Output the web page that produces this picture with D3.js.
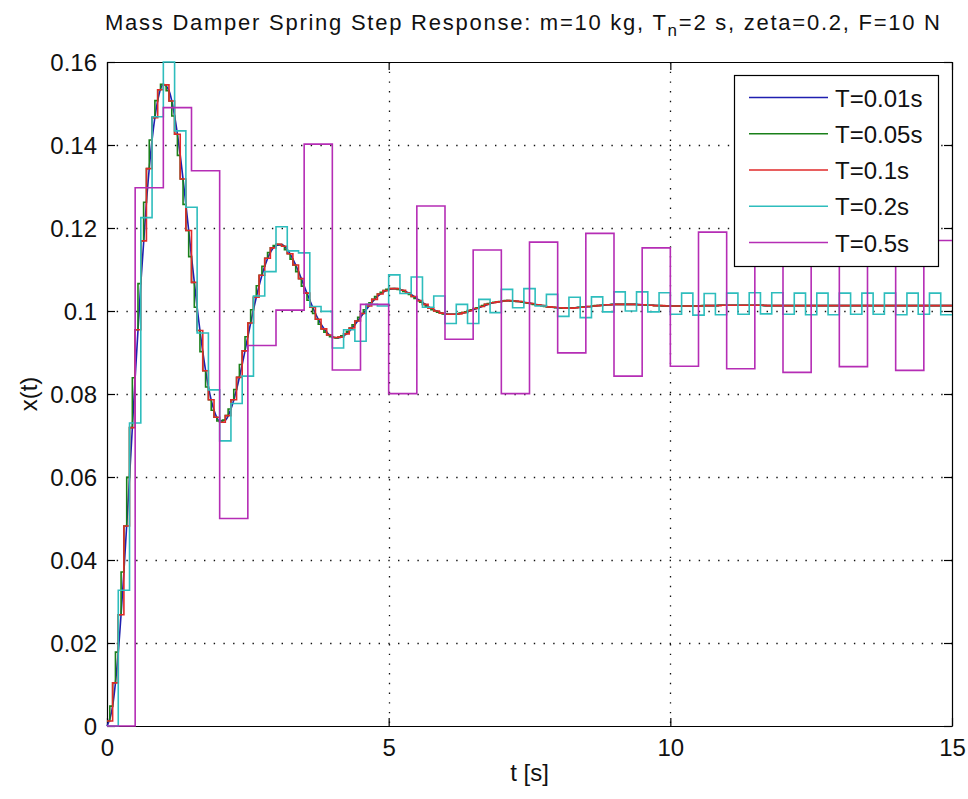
<!DOCTYPE html>
<html><head><meta charset="utf-8">
<script src="https://cdn.jsdelivr.net/npm/d3@7"></script>
<style>
html,body{margin:0;padding:0;background:#fff;}
svg{display:block;font-family:"Liberation Sans",Arial,Helvetica,sans-serif;}
</style></head><body>
<svg id="chart" width="968" height="799"></svg>
<script>
// ---------------- data ----------------
const xTicks = [0, 5, 10, 15];
const yTicks = [0, 0.02, 0.04, 0.06, 0.08, 0.1, 0.12, 0.14, 0.16];
const yTickLabels = ["0", "0.02", "0.04", "0.06", "0.08", "0.1", "0.12", "0.14", "0.16"];
const seriesNames = ["T=0.01s", "T=0.05s", "T=0.1s", "T=0.2s", "T=0.5s"];
const seriesColors = ["#1f1fb0", "#1a801a", "#e02a2a", "#2ebdbd", "#b52db5"];
const sampleSteps = [0.1, 0.05, 0.1, 0.2, 0.5];

// T=0.01s (drawn as smooth curve, read every 0.1 s)
const valsT001 = [
0.0000,0.0048,0.0178,0.0371,0.0599,0.0839,0.1066,0.1262,0.1412,0.1507,
0.1546,0.1531,0.1470,0.1375,0.1257,0.1131,0.1009,0.0902,0.0817,0.0761,
0.0735,0.0737,0.0764,0.0811,0.0871,0.0938,0.1003,0.1061,0.1108,0.1141,
0.1158,0.1160,0.1148,0.1125,0.1095,0.1060,0.1026,0.0994,0.0968,0.0949,
0.0938,0.0935,0.0940,0.0951,0.0967,0.0985,0.1003,0.1020,0.1035,0.1045,
0.1052,0.1054,0.1052,0.1047,0.1040,0.1030,0.1021,0.1011,0.1003,0.0997,
0.0993,0.0992,0.0992,0.0995,0.0998,0.1003,0.1008,0.1013,0.1018,0.1021,
0.1023,0.1025,0.1024,0.1023,0.1021,0.1019,0.1016,0.1014,0.1011,0.1009,
0.1008,0.1007,0.1007,0.1008,0.1009,0.1010,0.1011,0.1013,0.1014,0.1015,
0.1016,0.1016,0.1016,0.1016,0.1016,0.1015,0.1014,0.1014,0.1013,0.1012,
0.1012,0.1012,0.1012,0.1012,0.1012,0.1012,0.1013,0.1013,0.1013,0.1014,
0.1014,0.1014,0.1014,0.1014,0.1014,0.1014,0.1014,0.1013,0.1013,0.1013,
0.1013,0.1013,0.1013,0.1013,0.1013,0.1013,0.1013,0.1013,0.1013,0.1013,
0.1013,0.1013,0.1013,0.1013,0.1013,0.1013,0.1013,0.1013,0.1013,0.1013,
0.1013,0.1013,0.1013,0.1013,0.1013,0.1013,0.1013,0.1013,0.1013,0.1013,
0.1013];

// T=0.05s (held steps)
const valsT005 = [
0.0012,0.0048,0.0104,0.0178,0.0268,0.0371,0.0482,0.0599,0.0719,0.0839,
0.0955,0.1066,0.1169,0.1262,0.1343,0.1412,0.1466,0.1507,0.1533,0.1546,
0.1545,0.1531,0.1506,0.1470,0.1426,0.1375,0.1318,0.1257,0.1194,0.1131,
0.1069,0.1009,0.0953,0.0902,0.0856,0.0817,0.0786,0.0761,0.0744,0.0735,
0.0732,0.0737,0.0748,0.0764,0.0786,0.0811,0.0840,0.0871,0.0904,0.0938,
0.0971,0.1003,0.1033,0.1061,0.1086,0.1108,0.1127,0.1141,0.1152,0.1158,
0.1161,0.1160,0.1156,0.1148,0.1138,0.1125,0.1111,0.1095,0.1078,0.1060,
0.1043,0.1026,0.1009,0.0994,0.0980,0.0968,0.0957,0.0949,0.0942,0.0938,
0.0936,0.0935,0.0937,0.0940,0.0945,0.0951,0.0959,0.0967,0.0976,0.0985,
0.0994,0.1003,0.1012,0.1020,0.1028,0.1035,0.1041,0.1045,0.1049,0.1052,
0.1054,0.1054,0.1054,0.1052,0.1050,0.1047,0.1044,0.1040,0.1035,0.1030,
0.1025,0.1021,0.1016,0.1011,0.1007,0.1003,0.1000,0.0997,0.0995,0.0993,
0.0992,0.0992,0.0992,0.0992,0.0993,0.0995,0.0996,0.0998,0.1001,0.1003,
0.1006,0.1008,0.1011,0.1013,0.1016,0.1018,0.1020,0.1021,0.1022,0.1023,
0.1024,0.1025,0.1025,0.1024,0.1024,0.1023,0.1023,0.1021,0.1020,0.1019,
0.1018,0.1016,0.1015,0.1014,0.1013,0.1011,0.1010,0.1009,0.1009,0.1008,
0.1008,0.1007,0.1007,0.1007,0.1007,0.1008,0.1008,0.1009,0.1009,0.1010,
0.1011,0.1011,0.1012,0.1013,0.1013,0.1014,0.1015,0.1015,0.1015,0.1016,
0.1016,0.1016,0.1016,0.1016,0.1016,0.1016,0.1016,0.1016,0.1015,0.1015,
0.1015,0.1014,0.1014,0.1014,0.1013,0.1013,0.1013,0.1012,0.1012,0.1012,
0.1012,0.1012,0.1012,0.1012,0.1012,0.1012,0.1012,0.1012,0.1012,0.1012,
0.1012,0.1013,0.1013,0.1013,0.1013,0.1013,0.1013,0.1014,0.1014,0.1014,
0.1014,0.1014,0.1014,0.1014,0.1014,0.1014,0.1014,0.1014,0.1014,0.1014,
0.1014,0.1014,0.1014,0.1013,0.1013,0.1013,0.1013,0.1013,0.1013,0.1013,
0.1013,0.1013,0.1013,0.1013,0.1013,0.1013,0.1013,0.1013,0.1013,0.1013,
0.1013,0.1013,0.1013,0.1013,0.1013,0.1013,0.1013,0.1013,0.1013,0.1013,
0.1013,0.1013,0.1013,0.1013,0.1013,0.1013,0.1013,0.1013,0.1013,0.1013,
0.1013,0.1013,0.1013,0.1013,0.1013,0.1013,0.1013,0.1013,0.1013,0.1013,
0.1013,0.1013,0.1013,0.1013,0.1013,0.1013,0.1013,0.1013,0.1013,0.1013,
0.1013,0.1013,0.1013,0.1013,0.1013,0.1013,0.1013,0.1013,0.1013,0.1013];

// T=0.1s (held steps)
const valsT01 = [
0.0012,0.0104,0.0268,0.0482,0.0719,0.0955,0.1169,0.1343,0.1466,0.1533,
0.1545,0.1506,0.1426,0.1318,0.1194,0.1069,0.0953,0.0856,0.0786,0.0744,
0.0732,0.0748,0.0786,0.0840,0.0904,0.0971,0.1033,0.1086,0.1127,0.1152,
0.1161,0.1156,0.1138,0.1111,0.1078,0.1043,0.1009,0.0980,0.0957,0.0942,
0.0936,0.0937,0.0945,0.0959,0.0976,0.0994,0.1012,0.1028,0.1041,0.1049,
0.1054,0.1054,0.1050,0.1044,0.1035,0.1025,0.1016,0.1007,0.1000,0.0995,
0.0992,0.0992,0.0993,0.0996,0.1001,0.1006,0.1011,0.1016,0.1020,0.1022,
0.1024,0.1025,0.1024,0.1023,0.1020,0.1018,0.1015,0.1013,0.1010,0.1009,
0.1008,0.1007,0.1007,0.1008,0.1009,0.1011,0.1012,0.1013,0.1015,0.1015,
0.1016,0.1016,0.1016,0.1016,0.1015,0.1015,0.1014,0.1013,0.1013,0.1012,
0.1012,0.1012,0.1012,0.1012,0.1012,0.1012,0.1013,0.1013,0.1013,0.1014,
0.1014,0.1014,0.1014,0.1014,0.1014,0.1014,0.1014,0.1013,0.1013,0.1013,
0.1013,0.1013,0.1013,0.1013,0.1013,0.1013,0.1013,0.1013,0.1013,0.1013,
0.1013,0.1013,0.1013,0.1013,0.1013,0.1013,0.1013,0.1013,0.1013,0.1013,
0.1013,0.1013,0.1013,0.1013,0.1013,0.1013,0.1013,0.1013,0.1013,0.1013];

// T=0.2s (held steps)
const valsT02 = [
0.0000,0.0327,0.0730,0.1225,0.1468,0.1600,0.1434,0.1250,0.0947,0.0810,
0.0687,0.0777,0.0843,0.1036,0.1095,0.1203,0.1145,0.1140,0.1011,0.0999,
0.0911,0.0955,0.0927,0.1016,0.1012,0.1087,0.1042,0.1082,0.1009,0.1036,
0.0970,0.1016,0.0970,0.1028,0.0996,0.1052,0.1008,0.1054,0.1012,0.1040,
0.0987,0.1033,0.0984,0.1034,0.0998,0.1046,0.1000,0.1046,0.0998,0.1044,
0.0992,0.1043,0.0990,0.1042,0.0991,0.1043,0.0992,0.1044,0.0993,0.1044,
0.0992,0.1043,0.0991,0.1043,0.0991,0.1043,0.0992,0.1043,0.0992,0.1043,
0.0991,0.1043,0.0992,0.1043,0.0991];

// T=0.5s (held steps)
const valsT05 = [
0.0000,0.1297,0.1490,0.1338,0.0500,0.0917,0.1002,0.1402,0.0858,0.1016,
0.0801,0.1253,0.0932,0.1147,0.0801,0.1166,0.0899,0.1187,0.0843,0.1152,
0.0867,0.1190,0.0861,0.1175,0.0852,0.1170,0.0866,0.1170,0.0857,0.1170];

const seriesValues = [valsT001, valsT005, valsT01, valsT02, valsT05];
const tEnd = 15;

// ---------------- layout ----------------
const svg = d3.select("#chart");
const L = 107, R = 952, T = 62, B = 726;
const x = d3.scaleLinear().domain([0, 15]).range([L, R]);
const y = d3.scaleLinear().domain([0, 0.16]).range([B, T]);
const FONT = '"Liberation Sans", Arial, Helvetica, sans-serif';

svg.append("rect").attr("width", 968).attr("height", 799).attr("fill", "#fff");

// grid (dotted)
const grid = svg.append("g").attr("stroke", "#111").attr("stroke-width", 1.3)
  .attr("stroke-dasharray", "1.4 8.3");
grid.selectAll("line.gx").data(xTicks.filter(d => d > 0 && d < 15)).join("line")
  .attr("x1", d => Math.round(x(d)) + 0.5).attr("x2", d => Math.round(x(d)) + 0.5)
  .attr("y1", T).attr("y2", B);
grid.selectAll("line.gy").data(yTicks.filter(d => d > 0 && d < 0.16)).join("line")
  .attr("y1", d => Math.round(y(d)) + 0.5).attr("y2", d => Math.round(y(d)) + 0.5)
  .attr("x1", L).attr("x2", R);

// axes (inward ticks on all sides)
function styleAxis(g) {
  g.attr("font-family", FONT).attr("font-size", 24);
  g.selectAll("path.domain").attr("stroke", "#000").attr("stroke-width", 1.2);
  g.selectAll(".tick line").attr("stroke", "#000").attr("stroke-width", 1.2);
  g.selectAll(".tick text").attr("fill", "#111");
}
const gL = svg.append("g").attr("transform", `translate(${L},0)`)
  .call(d3.axisLeft(y).tickValues(yTicks).tickFormat((d, i) => yTickLabels[i])
    .tickSizeInner(-8).tickSizeOuter(0).tickPadding(10));
styleAxis(gL);
gL.selectAll(".tick text").attr("dy", "0.36em");
const gR = svg.append("g").attr("transform", `translate(${R},0)`)
  .call(d3.axisRight(y).tickValues(yTicks).tickFormat("").tickSizeInner(-8).tickSizeOuter(0));
styleAxis(gR);
const gB = svg.append("g").attr("transform", `translate(0,${B})`)
  .call(d3.axisBottom(x).tickValues(xTicks).tickFormat(d3.format("d"))
    .tickSizeInner(-8).tickSizeOuter(0).tickPadding(13));
styleAxis(gB);
const gT = svg.append("g").attr("transform", `translate(0,${T})`)
  .call(d3.axisTop(x).tickValues(xTicks).tickFormat("").tickSizeInner(-8).tickSizeOuter(0));
styleAxis(gT);

// series
svg.append("clipPath").attr("id", "plotclip").append("rect")
  .attr("x", L - 1).attr("y", T - 2).attr("width", R - L + 2).attr("height", B - T + 4);
const plot = svg.append("g").attr("clip-path", "url(#plotclip)");

seriesValues.forEach((vals, si) => {
  const dt = sampleSteps[si];
  let pts = vals.map((v, k) => [k * dt, v]);
  let gen;
  if (si === 0) {
    gen = d3.line().x(d => x(d[0])).y(d => y(d[1])).curve(d3.curveMonotoneX);
  } else {
    pts.push([tEnd, vals[vals.length - 1]]);
    gen = d3.line().x(d => x(d[0])).y(d => y(d[1])).curve(d3.curveStepAfter);
  }
  plot.append("path").attr("d", gen(pts)).attr("fill", "none")
    .attr("stroke", seriesColors[si]).attr("stroke-width", 1.6)
    .attr("stroke-linejoin", "miter");
});

// title
const title = svg.append("text").attr("x", 105).attr("y", 29.5)
  .attr("font-family", FONT).attr("font-size", 22).attr("fill", "#111")
  .attr("textLength", 835).attr("lengthAdjust", "spacing");
title.append("tspan").text("Mass Damper Spring Step Response: m=10 kg, T");
title.append("tspan").attr("dy", 6).attr("font-size", 17).text("n");
title.append("tspan").attr("dy", -6).text("=2 s, zeta=0.2, F=10 N");

// axis labels
svg.append("text").attr("x", (L + R) / 2).attr("y", 781).attr("text-anchor", "middle")
  .attr("font-family", FONT).attr("font-size", 24).attr("fill", "#111").text("t [s]");
svg.append("text").attr("transform", `translate(37,${(T + B) / 2}) rotate(-90)`)
  .attr("text-anchor", "middle").attr("font-family", FONT).attr("font-size", 24)
  .attr("fill", "#111").text("x(t)");

// legend
const lg = svg.append("g");
lg.append("rect").attr("x", 734.5).attr("y", 75.5).attr("width", 204).attr("height", 191)
  .attr("fill", "#fff").attr("stroke", "#000").attr("stroke-width", 1.2);
const rowY = d3.scaleLinear().domain([0, 4]).range([97.5, 242.5]);
seriesNames.forEach((name, i) => {
  lg.append("line").attr("x1", 749).attr("x2", 828).attr("y1", rowY(i)).attr("y2", rowY(i))
    .attr("stroke", seriesColors[i]).attr("stroke-width", 1.6);
  lg.append("text").attr("x", 835).attr("y", rowY(i) + 9)
    .attr("font-family", FONT).attr("font-size", 24).attr("fill", "#111").text(name);
});
</script>
</body></html>
